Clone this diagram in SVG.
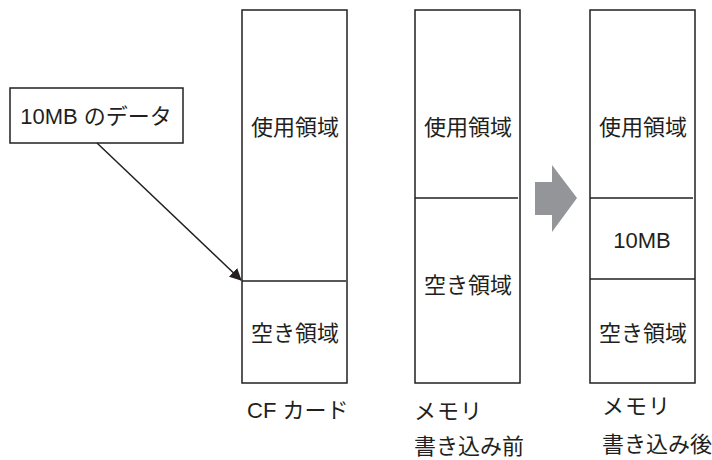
<svg xmlns="http://www.w3.org/2000/svg" width="712" height="460" viewBox="0 0 712 460">
<style>
.box{fill:#fff;stroke:#231f20;stroke-width:1.5}
.ln{stroke:#231f20;stroke-width:1.5;fill:none}
.t{font-family:"Liberation Sans","Noto Sans CJK JP",sans-serif;font-size:22px;fill:#231f20}
.c{text-anchor:middle}
</style>
<defs>
<marker id="ah" markerWidth="12" markerHeight="12" refX="11" refY="6" orient="auto" markerUnits="userSpaceOnUse" viewBox="0 0 12 12">
<path d="M0,0 L12,6 L0,12 z" fill="#231f20"/>
</marker>
</defs>
<g id="data">
<rect class="box" x="10" y="88" width="173" height="55"/>
<text class="t c" x="96" y="124">10MB のデータ</text>
</g>
<g id="cf">
<rect class="box" x="242" y="10" width="105" height="373"/>
<line class="ln" x1="242" y1="281" x2="346" y2="281"/>
<text class="t c" x="295" y="135">使用領域</text>
<text class="t c" x="295" y="341">空き領域</text>
<text class="t" x="247" y="418">CF カード</text>
</g>
<g id="mem-before">
<rect class="box" x="415" y="10" width="105" height="373"/>
<line class="ln" x1="415" y1="198" x2="518" y2="198"/>
<text class="t c" x="468" y="135">使用領域</text>
<text class="t c" x="468" y="293">空き領域</text>
<text class="t" x="414" y="419" letter-spacing="1">メモリ</text>
<text class="t" x="414" y="454">書き込み前</text>
</g>
<g id="mem-after">
<rect class="box" x="590" y="10" width="105" height="373"/>
<line class="ln" x1="590" y1="198" x2="693" y2="198"/>
<line class="ln" x1="590" y1="279" x2="695" y2="279"/>
<text class="t c" x="643" y="135">使用領域</text>
<text class="t c" x="642" y="248">10MB</text>
<text class="t c" x="643" y="341">空き領域</text>
<text class="t" x="602" y="414" letter-spacing="1">メモリ</text>
<text class="t" x="602" y="452">書き込み後</text>
</g>
<g id="connectors">
<line class="ln" x1="97" y1="143" x2="241" y2="280" marker-end="url(#ah)"/>
<path d="M535,182 L552,182 L552,165 L577,198 L552,232 L552,215 L535,215 z" fill="#939598"/>
</g>
</svg>
